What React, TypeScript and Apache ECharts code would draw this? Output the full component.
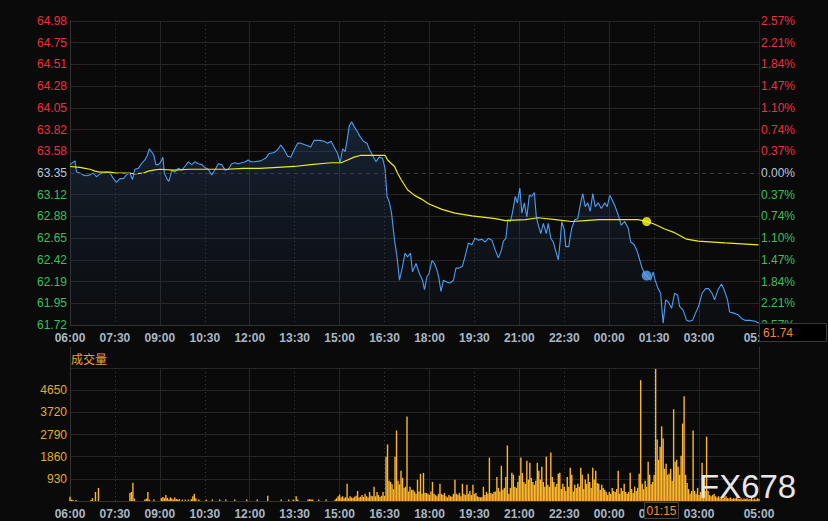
import React, { useEffect, useRef } from 'react';
import * as echarts from 'echarts';

// ---------- data (minutes counted from 06:00) ----------
const priceMinutes = [
  0, 10, 13, 20, 26, 33, 40, 47, 53, 60, 67, 73, 80, 87, 93, 100, 107, 113, 120, 125,
  130, 137, 143, 150, 155, 159, 163, 168, 172, 177, 182, 186, 189, 194, 198, 204, 210, 217, 224, 230,
  237, 244, 250, 257, 264, 270, 277, 284, 290, 297, 304, 311, 317, 324, 331, 337, 344, 351, 357, 362,
  369, 382, 392, 399, 409, 416, 422, 429, 436, 442, 449, 456, 462, 472, 482, 489, 499, 509, 516, 523,
  529, 536, 541, 546, 551, 555, 559, 564, 569, 576, 581, 588, 595, 599, 606, 613, 619, 626, 631, 635,
  640, 644, 650, 655, 660, 666, 671, 676, 682, 686, 693, 700, 706, 710, 715, 719, 725, 730, 735, 739,
  743, 748, 755, 761, 768, 773, 779, 786, 791, 798, 805, 811, 818, 825, 831, 838, 845, 852, 858, 864,
  868, 873, 877, 882, 886, 892, 896, 901, 905, 910, 915, 920, 925, 930, 934, 938, 943, 948, 954, 958,
  963, 968, 973, 978, 982, 985, 990, 993, 999, 1002, 1005, 1011, 1017, 1022, 1027, 1032, 1037, 1042, 1047, 1052,
  1058, 1064, 1071, 1076, 1081, 1086, 1092, 1098, 1104, 1111, 1118, 1123, 1130, 1136, 1141, 1146, 1151, 1155, 1163, 1168,
  1172, 1178, 1183, 1188, 1193, 1198, 1205, 1211, 1217, 1221, 1228, 1235, 1240, 1247, 1253, 1259, 1266, 1273, 1279, 1286,
  1291, 1298, 1305, 1310, 1317, 1321, 1328, 1338, 1345, 1352, 1362, 1372, 1380,
];
const priceValues = [
  63.44, 63.48, 63.36, 63.35, 63.33, 63.32, 63.33, 63.35, 63.31, 63.34, 63.35, 63.36, 63.35, 63.29, 63.25, 63.29, 63.29, 63.33, 63.35, 63.28,
  63.39, 63.40, 63.45, 63.49, 63.54, 63.61, 63.58, 63.54, 63.44, 63.44, 63.47, 63.52, 63.35, 63.29, 63.26, 63.38, 63.36, 63.40, 63.38, 63.42,
  63.47, 63.44, 63.47, 63.45, 63.44, 63.41, 63.39, 63.33, 63.38, 63.45, 63.44, 63.38, 63.39, 63.45, 63.46, 63.45, 63.46, 63.47, 63.49, 63.47,
  63.47, 63.48, 63.51, 63.56, 63.57, 63.60, 63.65, 63.60, 63.53, 63.52, 63.60, 63.67, 63.67, 63.65, 63.63, 63.70, 63.70, 63.69, 63.67, 63.69,
  63.63, 63.56, 63.46, 63.61, 63.58, 63.70, 63.85, 63.90, 63.85, 63.79, 63.74, 63.69, 63.67, 63.61, 63.54, 63.47, 63.52, 63.51, 63.40, 63.10,
  63.03, 62.92, 62.63, 62.45, 62.20, 62.35, 62.49, 62.45, 62.49, 62.29, 62.38, 62.27, 62.20, 62.10, 62.24, 62.27, 62.41, 62.38, 62.31, 62.22,
  62.08, 62.20, 62.18, 62.17, 62.20, 62.33, 62.33, 62.35, 62.45, 62.60, 62.58, 62.65, 62.63, 62.64, 62.61, 62.65, 62.63, 62.52, 62.44, 62.52,
  62.62, 62.65, 62.85, 62.83, 62.92, 63.10, 63.03, 63.19, 62.92, 63.03, 62.88, 63.11, 63.10, 63.14, 62.88, 62.79, 62.70, 62.81, 62.70, 62.81,
  62.65, 62.61, 62.51, 62.42, 62.63, 62.83, 62.74, 62.56, 62.56, 62.67, 62.76, 62.85, 62.86, 63.01, 63.13, 62.99, 63.03, 62.94, 63.13, 62.99,
  63.03, 62.97, 63.03, 62.99, 63.11, 63.06, 62.99, 62.90, 62.79, 62.83, 62.76, 62.61, 62.58, 62.51, 62.42, 62.33, 62.27, 62.25, 62.20, 62.29,
  62.20, 62.11, 62.06, 61.74, 61.99, 61.97, 61.90, 62.06, 62.04, 61.92, 61.88, 61.77, 61.76, 61.77, 61.85, 61.92, 62.06, 62.11, 62.11, 62.06,
  61.99, 62.10, 62.16, 62.10, 61.99, 61.86, 61.85, 61.83, 61.79, 61.77, 61.77, 61.76, 61.74,
];

const avgMinutes = [
  0, 20, 30, 40, 50, 60, 80, 93, 117, 130, 147, 157, 167, 180, 207, 240, 280, 314, 347, 380,
  416, 449, 482, 523, 543, 556, 569, 583, 609, 631, 636, 650, 656, 663, 676, 690, 704, 718, 745, 771,
  805, 852, 872, 912, 938, 972, 1005, 1032, 1059, 1138, 1155, 1171, 1191, 1211, 1235, 1258, 1312, 1379,
];
const avgValues = [
  63.42, 63.41, 63.40, 63.39, 63.37, 63.36, 63.36, 63.35, 63.35, 63.34, 63.35, 63.37, 63.38, 63.39, 63.38, 63.39, 63.39, 63.39, 63.40, 63.40,
  63.41, 63.42, 63.44, 63.46, 63.46, 63.49, 63.52, 63.54, 63.54, 63.54, 63.49, 63.42, 63.35, 63.28, 63.17, 63.11, 63.07, 63.02, 62.96, 62.92,
  62.89, 62.86, 62.84, 62.85, 62.87, 62.85, 62.83, 62.84, 62.85, 62.85, 62.83, 62.80, 62.75, 62.71, 62.64, 62.62, 62.60, 62.58,
];

// volume, one value every VOL_STEP minutes from 06:00
const VOL_STEP = 3;
const volValues = [
  180, 60, 40, 0, 40, 0, 0, 0, 0, 0,
  0, 0, 0, 0, 40, 120, 0, 380, 0, 550,
  0, 0, 0, 0, 0, 0, 0, 0, 0, 0,
  0, 0, 0, 0, 0, 0, 0, 0, 0, 0,
  340, 380, 770, 100, 0, 0, 0, 0, 0, 0,
  60, 100, 380, 60, 0, 0, 60, 0, 0, 0,
  0, 120, 170, 120, 250, 130, 60, 150, 100, 60,
  150, 80, 60, 80, 0, 60, 0, 60, 0, 60,
  0, 80, 200, 300, 120, 0, 60, 0, 0, 0,
  0, 60, 0, 0, 0, 60, 0, 0, 0, 0,
  60, 0, 0, 0, 60, 0, 0, 0, 0, 0,
  60, 0, 0, 0, 0, 0, 0, 0, 60, 0,
  0, 0, 0, 0, 0, 60, 0, 0, 0, 0,
  0, 0, 220, 0, 0, 0, 0, 0, 0, 0,
  0, 60, 0, 0, 0, 0, 60, 0, 0, 60,
  0, 200, 60, 0, 0, 0, 0, 0, 0, 60,
  80, 60, 60, 0, 0, 0, 60, 0, 0, 0,
  0, 60, 0, 0, 0, 0, 0, 60, 120, 200,
  270, 150, 200, 120, 160, 720, 120, 200, 150, 130,
  180, 220, 420, 150, 180, 250, 170, 300, 200, 150,
  380, 220, 200, 600, 200, 380, 250, 170, 220, 380,
  220, 1860, 2370, 850, 800, 700, 500, 1860, 2960, 850,
  700, 1270, 970, 550, 600, 3550, 400, 600, 470, 470,
  400, 300, 890, 400, 1140, 300, 1180, 350, 340, 300,
  250, 400, 800, 300, 250, 200, 300, 720, 300, 250,
  340, 200, 150, 250, 200, 180, 300, 890, 300, 250,
  340, 200, 720, 300, 250, 680, 300, 420, 250, 680,
  300, 340, 200, 170, 150, 170, 600, 250, 380, 300,
  1820, 340, 300, 380, 400, 1010, 550, 400, 1480, 470,
  550, 1010, 2330, 300, 550, 1180, 1100, 600, 550, 800,
  1060, 1820, 1180, 800, 720, 1690, 900, 1600, 970, 800,
  680, 850, 1600, 1270, 900, 1440, 800, 600, 1860, 680,
  600, 2030, 1010, 800, 600, 720, 1140, 1180, 500, 720,
  600, 420, 1010, 600, 1400, 1100, 400, 680, 550, 720,
  600, 1400, 1100, 500, 900, 720, 1140, 800, 550, 1400,
  900, 1270, 760, 720, 470, 680, 550, 470, 380, 250,
  380, 300, 550, 420, 380, 500, 1270, 300, 550, 420,
  720, 380, 300, 380, 1180, 500, 340, 600, 420, 550,
  1140, 5070, 720, 500, 850, 600, 1650, 1100, 700, 800,
  1100, 5540, 2580, 1730, 2280, 3130, 2620, 1350, 1560, 1100,
  1140, 1350, 850, 3850, 1650, 1730, 1440, 1100, 1900, 3250,
  4400, 1100, 760, 500, 300, 420, 2960, 420, 300, 550,
  250, 380, 1600, 300, 420, 2700, 420, 250, 200, 250,
  300, 200, 150, 200, 120, 170, 100, 150, 200, 120,
  100, 150, 80, 120, 100, 150, 100, 80, 120, 60,
  100, 80, 120, 60, 80, 150, 60, 100, 60, 120,
  80,
];

const basePrice = 63.35;
const crossMinute = 1155;
const crossLabel = '01:15';
const crossPrice = 62.25;
const crossAvg = 62.83;

const priceTickLabels = ['61.72', '61.95', '62.19', '62.42', '62.65', '62.88', '63.12', '63.35', '63.58', '63.82', '64.05', '64.28', '64.51', '64.75', '64.98'];
const pctTickLabels = ['2.57%', '2.21%', '1.84%', '1.47%', '1.10%', '0.74%', '0.37%', '0.00%', '0.37%', '0.74%', '1.10%', '1.47%', '1.84%', '2.21%', '2.57%'];
const timeTickLabels = ['06:00', '07:30', '09:00', '10:30', '12:00', '13:30', '15:00', '16:30', '18:00', '19:30', '21:00', '22:30', '00:00', '01:30', '03:00'];
const endTimeLabel = '05:00';
const volTickLabels = ['930', '1860', '2790', '3720', '4650'];
const VOL_MAX = 5580;
const VOL_INTERVAL = 930;
const X_MAX = 1380;
const X_STEP = 90;

// ---------- styling ----------
const BG = '#0a0a0a';
const GRID = '#262626';
const DOT = '#3a3a3a';
const AXIS = '#333333';
const RED = '#ee2f42';
const GREEN = '#35c060';
const NEUTRAL = '#b8c7d6';
const XLABEL = '#a9b7c5';
const VOLLABEL = '#e3ad2f';
const ORANGE = '#f08c30';
const FONT = '"Liberation Sans", Arial, sans-serif';

const PMIN = Number(priceTickLabels[0]);
const PMAX = Number(priceTickLabels[priceTickLabels.length - 1]);
const NSTEP = priceTickLabels.length - 1;
const PSTEP = (PMAX - PMIN) / NSTEP;
const priceTickValues = priceTickLabels.map((_, i) => PMIN + i * PSTEP);
const BASE_IDX = priceTickLabels.indexOf(basePrice.toFixed(2));
const tickIdx = (v: number) => Math.round((v - PMIN) / PSTEP);
const tickColor = (v: any) => {
  const k = tickIdx(parseFloat(v));
  return k > BASE_IDX ? RED : k < BASE_IDX ? GREEN : NEUTRAL;
};

const timeFormatter = (value: number) => {
  if (Math.abs(value - X_MAX) < 0.01) return endTimeLabel;
  const k = value / X_STEP;
  if (Number.isInteger(k) && k < timeTickLabels.length) return timeTickLabels[k];
  return '';
};

const nDotTicks = Math.floor(X_MAX / X_STEP) + 2;
const dotColors = Array.from({ length: nDotTicks }, (_, i) =>
  i % 2 === 1 && i < timeTickLabels.length ? DOT : 'transparent'
);
const priceSplitColors = priceTickLabels.map((_, i) => (i === BASE_IDX ? 'transparent' : GRID));

function makeXAxes(gridIndex: number) {
  return [
    {
      gridIndex,
      type: 'value',
      min: 0,
      max: X_MAX,
      interval: X_STEP,
      position: 'bottom',
      axisLine: { show: true, lineStyle: { color: AXIS } },
      axisTick: { show: false },
      axisLabel: {
        show: true,
        formatter: timeFormatter,
        color: XLABEL,
        fontSize: 12,
        fontWeight: 'bold',
        fontFamily: FONT,
        margin: 7,
        showMinLabel: true,
        showMaxLabel: true,
        hideOverlap: false,
      },
      splitLine: { show: true, lineStyle: { color: dotColors, type: [1, 3], width: 1 } },
    },
    {
      gridIndex,
      type: 'value',
      min: 0,
      max: X_MAX,
      interval: X_STEP * 2,
      position: 'bottom',
      axisLine: { show: false },
      axisTick: { show: false },
      axisLabel: { show: false },
      splitLine: { show: true, lineStyle: { color: GRID, width: 1 } },
    },
  ];
}

export default function App() {
  const ref = useRef<HTMLDivElement>(null);

  useEffect(() => {
    if (!ref.current) return;
    const chart = echarts.init(ref.current, null, { renderer: 'svg' });

    const priceData = priceMinutes.map((m, i) => [m, priceValues[i]]);
    const avgData = avgMinutes.map((m, i) => [m, avgValues[i]]);
    const volData = volValues.map((v, i) => [i * VOL_STEP, v]);
    const lastPrice = priceValues[priceValues.length - 1];

    const option: any = {
      animation: false,
      backgroundColor: BG,
      grid: [
        { left: 70, right: 69, top: 21, height: 304 },
        { left: 70, right: 69, top: 368, height: 133 },
      ],
      xAxis: [...makeXAxes(0), ...makeXAxes(1)],
      yAxis: [
        {
          gridIndex: 0,
          type: 'value',
          position: 'left',
          min: PMIN,
          max: PMAX,
          axisLine: { show: true, lineStyle: { color: AXIS } },
          axisTick: { show: false, customValues: priceTickValues },
          axisLabel: {
            customValues: priceTickValues,
            formatter: (v: number) => priceTickLabels[tickIdx(v)],
            color: tickColor,
            fontSize: 12,
            fontFamily: FONT,
            margin: 3,
          },
          splitLine: { show: true, lineStyle: { color: priceSplitColors, width: 1 } },
        },
        {
          gridIndex: 0,
          type: 'value',
          position: 'right',
          min: PMIN,
          max: PMAX,
          axisLine: { show: true, lineStyle: { color: AXIS } },
          axisTick: { show: false, customValues: priceTickValues },
          axisLabel: {
            customValues: priceTickValues,
            formatter: (v: number) => pctTickLabels[tickIdx(v)],
            color: tickColor,
            fontSize: 12,
            fontFamily: FONT,
            margin: 2,
          },
          splitLine: { show: false },
        },
        {
          gridIndex: 1,
          type: 'value',
          position: 'left',
          min: 0,
          max: VOL_MAX,
          interval: VOL_INTERVAL,
          axisLine: { show: true, lineStyle: { color: AXIS } },
          axisTick: { show: false },
          axisLabel: {
            formatter: (v: number) => {
              const k = Math.round(v / VOL_INTERVAL);
              return k >= 1 && k <= volTickLabels.length ? volTickLabels[k - 1] : '';
            },
            color: VOLLABEL,
            fontSize: 12,
            fontFamily: FONT,
            margin: 3,
          },
          splitLine: { show: true, lineStyle: { color: GRID, width: 1 } },
        },
        {
          gridIndex: 1,
          type: 'value',
          position: 'right',
          min: 0,
          max: VOL_MAX,
          axisLine: { show: true, lineStyle: { color: AXIS } },
          axisTick: { show: false },
          axisLabel: { show: false },
          splitLine: { show: false },
        },
      ],
      series: [
        {
          type: 'line',
          xAxisIndex: 0,
          yAxisIndex: 0,
          data: priceData,
          showSymbol: false,
          symbol: 'none',
          lineStyle: { color: '#4f9cf0', width: 1.1 },
          areaStyle: {
            color: new echarts.graphic.LinearGradient(0, 0, 0, 1, [
              { offset: 0, color: 'rgba(50,90,145,0.45)' },
              { offset: 1, color: 'rgba(30,50,80,0.12)' },
            ]),
          },
          markLine: {
            silent: true,
            symbol: ['none', 'none'],
            label: { show: false },
            lineStyle: { color: DOT, type: [4, 4], width: 1 },
            data: [{ yAxis: basePrice }],
          },
          z: 3,
        },
        {
          type: 'line',
          xAxisIndex: 0,
          yAxisIndex: 0,
          data: avgData,
          showSymbol: false,
          symbol: 'none',
          lineStyle: { color: '#eded12', width: 1.2 },
          z: 4,
        },
        {
          type: 'scatter',
          xAxisIndex: 0,
          yAxisIndex: 0,
          data: [[crossMinute, crossAvg]],
          symbolSize: 9,
          itemStyle: { color: '#ffff1a' },
          z: 5,
        },
        {
          type: 'scatter',
          xAxisIndex: 0,
          yAxisIndex: 0,
          data: [[crossMinute, crossPrice]],
          symbolSize: 10,
          itemStyle: { color: '#5aa6f5' },
          z: 5,
        },
        {
          type: 'bar',
          xAxisIndex: 2,
          yAxisIndex: 2,
          data: volData,
          barWidth: 1.4,
          itemStyle: { color: '#fdb72d' },
        },
      ],
      graphic: [
        {
          type: 'line',
          z: 50,
          shape: { x1: 70.5, y1: 347, x2: 70.5, y2: 368 },
          style: { stroke: AXIS, lineWidth: 1 },
        },
        {
          type: 'line',
          z: 50,
          shape: { x1: 759.5, y1: 347, x2: 759.5, y2: 368 },
          style: { stroke: AXIS, lineWidth: 1 },
        },
        {
          type: 'text',
          z: 50,
          x: 71,
          y: 358,
          style: {
            text: '成交量',
            fill: '#f0a032',
            font: '12px "Noto Sans CJK SC", sans-serif',
            verticalAlign: 'middle',
          },
        },
        {
          type: 'rect',
          z: 60,
          shape: { x: 759.5, y: 323.5, width: 67, height: 18 },
          style: { fill: '#000000', stroke: '#3a3a3a', lineWidth: 1 },
        },
        {
          type: 'text',
          z: 61,
          x: 763,
          y: 333,
          style: {
            text: lastPrice.toFixed(2),
            fill: ORANGE,
            font: '12px ' + FONT,
            verticalAlign: 'middle',
          },
        },
        {
          type: 'rect',
          z: 60,
          shape: { x: 644.5, y: 502.5, width: 34, height: 16 },
          style: { fill: BG, stroke: '#444444', lineWidth: 1 },
        },
        {
          type: 'text',
          z: 61,
          x: 661.5,
          y: 511,
          style: {
            text: crossLabel,
            fill: ORANGE,
            font: '12px ' + FONT,
            align: 'center',
            verticalAlign: 'middle',
          },
        },
        {
          type: 'text',
          z: 70,
          x: 699,
          y: 486,
          style: {
            text: 'FX678',
            fill: '#e6e6e6',
            font: '33px ' + FONT,
            verticalAlign: 'middle',
          },
        },
      ],
    };

    chart.setOption(option);
    return () => chart.dispose();
  }, []);

  return (
    <div
      ref={ref}
      style={{ position: 'fixed', left: 0, top: 0, width: 828, height: 521, background: BG }}
    />
  );
}
